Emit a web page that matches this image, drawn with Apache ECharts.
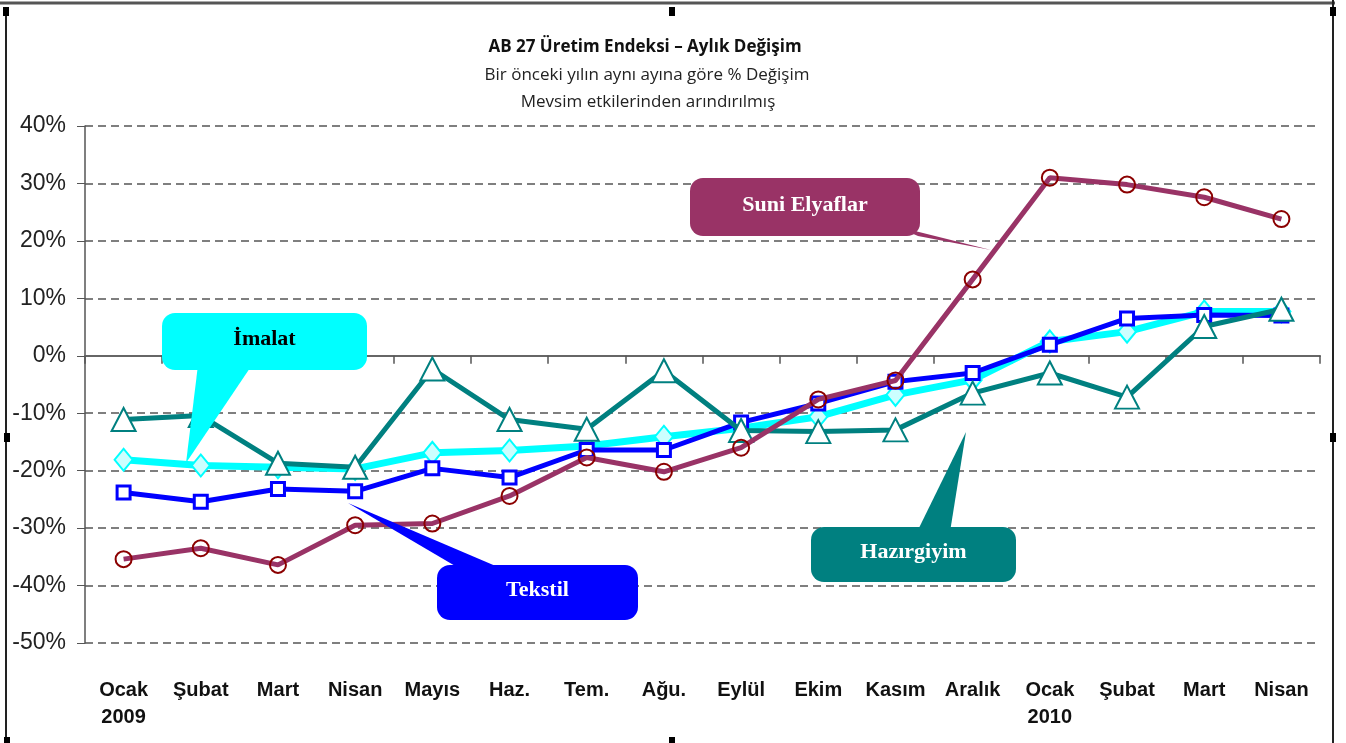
<!DOCTYPE html>
<html>
<head>
<meta charset="utf-8">
<title>AB 27 Üretim Endeksi</title>
<script src="https://cdn.jsdelivr.net/npm/echarts@6/dist/echarts.min.js"></script>
<style>
  html, body { margin: 0; padding: 0; background: #fff; }
  #chart { width: 1346px; height: 743px; }
</style>
</head>
<body>
<div id="chart"></div>
<script>
// aylar (x ekseni)
var months = ['Ocak\n2009', 'Şubat', 'Mart', 'Nisan', 'Mayıs', 'Haz.', 'Tem.', 'Ağu.',
              'Eylül', 'Ekim', 'Kasım', 'Aralık', 'Ocak\n2010', 'Şubat', 'Mart', 'Nisan'];

// bir önceki yılın aynı ayına göre % değişim
var imalat  = [-18.1, -19.1, -19.4, -19.7, -16.9, -16.5, -15.7, -14.1, -12.6, -10.6, -6.8, -4.2, 2.5, 4.2, 7.7, 7.7];
var tekstil = [-23.8, -25.4, -23.2, -23.6, -19.6, -21.2, -16.4, -16.4, -11.6, -8.3, -4.5, -3.0, 1.9, 6.5, 7.1, 7.0];
var hazir   = [-11.1, -10.4, -18.7, -19.4, -2.3, -11.1, -12.8, -2.6, -13.0, -13.2, -12.9, -6.5, -3.0, -7.2, 5.1, 8.1];
var suni    = [-35.4, -33.5, -36.4, -29.5, -29.2, -24.4, -17.7, -20.2, -16.0, -7.6, -4.3, 13.3, 31.0, 29.8, 27.6, 23.8];

var titleFont = "'Liberation Sans Narrow', 'Open Sans', sans-serif";
var boxFont = "'Liberation Serif', 'DejaVu Serif', serif";

function callout(box, wedge, color, label, textColor) {
	// kutu + ok + yazı
	return [
		{ type: 'polygon', z: 100, shape: { points: wedge }, style: { fill: color } },
		{ type: 'rect', z: 100, shape: { x: box[0], y: box[1], width: box[2], height: box[3], r: 13 }, style: { fill: color } },
		{ type: 'text', z: 101, x: box[0] + box[2] / 2, y: box[1] + box[3] / 2 - 2,
		  style: { text: label, fill: textColor, fontSize: 22, fontWeight: 'bold', fontFamily: boxFont,
		           align: 'center', verticalAlign: 'middle' } }
	];
}

var graphics = [
	{ type: 'text', x: 645, y: 47, style: { text: 'AB 27 Üretim Endeksi – Aylık Değişim', fontSize: 17, fontWeight: 'bold',
	  fontFamily: titleFont, fill: '#111', align: 'center', verticalAlign: 'middle' } },
	{ type: 'text', x: 647, y: 75, style: { text: 'Bir önceki yılın aynı ayına göre % Değişim', fontSize: 17,
	  fontFamily: titleFont, fill: '#222', align: 'center', verticalAlign: 'middle' } },
	{ type: 'text', x: 648, y: 102, style: { text: 'Mevsim etkilerinden arındırılmış', fontSize: 17,
	  fontFamily: titleFont, fill: '#222', align: 'center', verticalAlign: 'middle' } },
	// çerçeve
	{ type: 'line', shape: { x1: 0, y1: 3, x2: 1335, y2: 3 }, style: { stroke: '#555', lineWidth: 3 } },
	{ type: 'line', shape: { x1: 6, y1: 8, x2: 6, y2: 743 }, style: { stroke: '#222', lineWidth: 2 } },
	{ type: 'line', shape: { x1: 1333, y1: 0, x2: 1333, y2: 743 }, style: { stroke: '#222', lineWidth: 2 } },
	{ type: 'rect', shape: { x: 3, y: 7, width: 6, height: 9 }, style: { fill: '#000' } },
	{ type: 'rect', shape: { x: 669, y: 7, width: 6, height: 9 }, style: { fill: '#000' } },
	{ type: 'rect', shape: { x: 1330, y: 7, width: 6, height: 9 }, style: { fill: '#000' } },
	{ type: 'rect', shape: { x: 4, y: 433, width: 6, height: 9 }, style: { fill: '#000' } },
	{ type: 'rect', shape: { x: 1330, y: 433, width: 6, height: 9 }, style: { fill: '#000' } },
	{ type: 'rect', shape: { x: 4, y: 737, width: 6, height: 6 }, style: { fill: '#000' } },
	{ type: 'rect', shape: { x: 669, y: 737, width: 6, height: 6 }, style: { fill: '#000' } }
];
graphics = graphics
	.concat(callout([162, 313, 205, 57], [[198, 365], [252, 365], [186, 463]], '#00FFFF', 'İmalat', '#000'))
	.concat(callout([690, 178, 230, 58], [[895, 226], [918, 236], [991, 250]], '#993366', 'Suni Elyaflar', '#fff'))
	.concat(callout([437, 565, 201, 55], [[348, 503], [462, 570], [505, 570]], '#0000FF', 'Tekstil', '#fff'))
	.concat(callout([811, 527, 205, 55], [[917, 532], [950, 532], [966, 432]], '#008080', 'Hazırgiyim', '#fff'));

var myChart = echarts.init(document.getElementById('chart'));
myChart.setOption({
	animation: false,
	backgroundColor: '#fff',
	grid: { left: 85, right: 26, top: 126, bottom: 100 },
	xAxis: [
		{
			type: 'category',
			data: months,
			boundaryGap: true,
			axisLine: { onZero: true, lineStyle: { color: '#666', width: 2 } },
			axisTick: { show: true, length: 8, lineStyle: { color: '#555', width: 1.5 } },
			axisLabel: { show: false },
			splitLine: { show: false }
		},
		{
			type: 'category',
			data: months,
			position: 'bottom',
			boundaryGap: true,
			axisLine: { show: false },
			axisTick: { show: false },
			axisLabel: { show: true, interval: 0, margin: 34, fontSize: 20, fontWeight: 'bold', lineHeight: 27,
			             fontFamily: "'Liberation Sans', Arial, sans-serif", color: '#111' },
			splitLine: { show: false }
		}
	],
	yAxis: {
		type: 'value',
		min: -50,
		max: 40,
		interval: 10,
		axisLine: { show: true, lineStyle: { color: '#555', width: 1.5 } },
		axisTick: { show: true, length: 8, lineStyle: { color: '#555' } },
		axisLabel: { formatter: '{value}%', fontSize: 23, margin: 19,
		             fontFamily: "'Liberation Sans', Arial, sans-serif", color: '#222' },
		splitLine: { show: true, lineStyle: { color: '#7f7f7f', width: 2, type: [8, 5] } }
	},
	series: [
		{
			name: 'İmalat', type: 'line', data: imalat, z: 2,
			symbol: 'diamond', symbolSize: [18, 22],
			lineStyle: { color: '#00FFFF', width: 7 },
			itemStyle: { color: '#CCFFFF', borderColor: '#00FFFF', borderWidth: 2 }
		},
		{
			name: 'Tekstil', type: 'line', data: tekstil, z: 3,
			symbol: 'rect', symbolSize: 13,
			lineStyle: { color: '#0000FF', width: 5 },
			itemStyle: { color: '#fff', borderColor: '#0000FF', borderWidth: 3 }
		},
		{
			name: 'Hazırgiyim', type: 'line', data: hazir, z: 4,
			symbol: 'triangle', symbolSize: [24, 23],
			lineStyle: { color: '#008080', width: 5 },
			itemStyle: { color: '#fff', borderColor: '#008080', borderWidth: 2 }
		},
		{
			name: 'Suni Elyaflar', type: 'line', data: suni, z: 5,
			symbol: 'circle', symbolSize: 16,
			lineStyle: { color: '#993366', width: 5 },
			itemStyle: { color: 'rgba(255,255,255,0)', borderColor: '#8B0000', borderWidth: 2 }
		}
	],
	graphic: graphics
});
</script>
</body>
</html>
